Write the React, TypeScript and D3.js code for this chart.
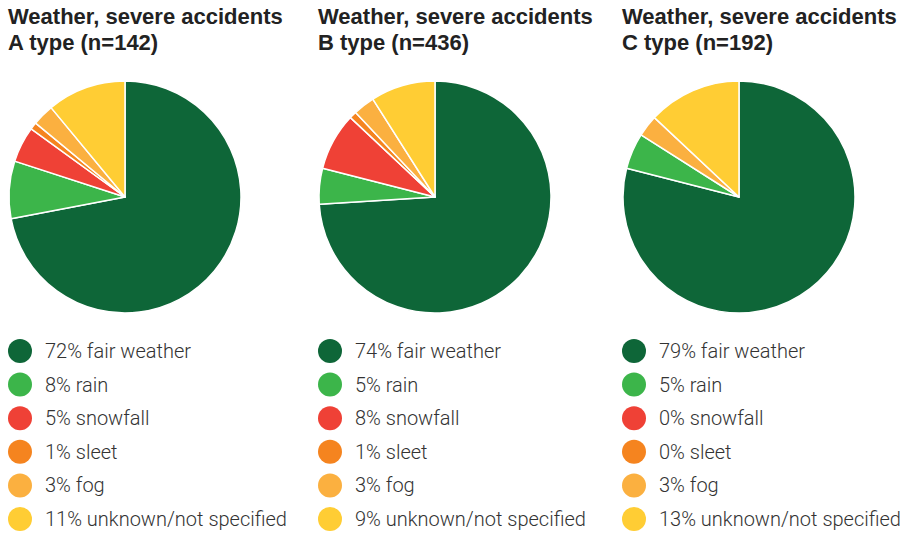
import * as d3 from 'd3';

const categories = ['fair weather', 'rain', 'snowfall', 'sleet', 'fog', 'unknown/not specified'];
const colors = ['#0e6638', '#3cb54a', '#ef4136', '#f5841f', '#fbb040', '#ffcd34'];

const titles = ['A type (n=142)', 'B type (n=436)', 'C type (n=192)'];
const valuesA = [72, 8, 5, 1, 3, 11];
const valuesB = [74, 5, 8, 1, 3, 9];
const valuesC = [79, 5, 0, 0, 3, 13];
const panels = [valuesA, valuesB, valuesC];

const W = 911;
const H = 535;
const colX = [8, 318, 622];
const radius = 116;

function Panel({ x, title, values }: { x: number; title: string; values: number[] }) {
  const pie = d3.pie<number>().sort(null).value(d => d)(values);
  const arc = d3.arc<d3.PieArcDatum<number>>().innerRadius(0).outerRadius(radius);
  const rowY = d3.scalePoint<number>().domain(d3.range(categories.length)).range([351, 519]);
  return (
    <g transform={`translate(${x},0)`}>
      <text x={0} y={24} fontSize={22} fontWeight="bold" fill="#222" fontFamily="Liberation Sans, Arial, sans-serif">
        Weather, severe accidents
      </text>
      <text x={0} y={50} fontSize={22} fontWeight="bold" fill="#222" fontFamily="Liberation Sans, Arial, sans-serif">
        {title}
      </text>
      <g transform={`translate(${radius + 1},197)`}>
        {pie.map((p, i) =>
          p.value > 0 ? (
            <path key={i} d={arc(p) || ''} fill={colors[i]} stroke="#fff" strokeWidth={1.5} strokeLinejoin="round" />
          ) : null
        )}
      </g>
      {categories.map((c, i) => (
        <g key={c}>
          <circle cx={12} cy={rowY(i)} r={12} fill={colors[i]} />
          <text
            x={37}
            y={rowY(i)}
            dy="0.35em"
            fontSize={20}
            fill="#333"
            fontFamily="Roboto, sans-serif"
            fontWeight={300}
          >
            {`${values[i]}% ${c}`}
          </text>
        </g>
      ))}
    </g>
  );
}

export default function App() {
  return (
    <svg
      width={W}
      height={H}
      viewBox={`0 0 ${W} ${H}`}
      style={{ position: 'absolute', left: 0, top: 0, background: '#fff' }}
    >
      {panels.map((v, i) => (
        <Panel key={i} x={colX[i]} title={titles[i]} values={v} />
      ))}
    </svg>
  );
}
